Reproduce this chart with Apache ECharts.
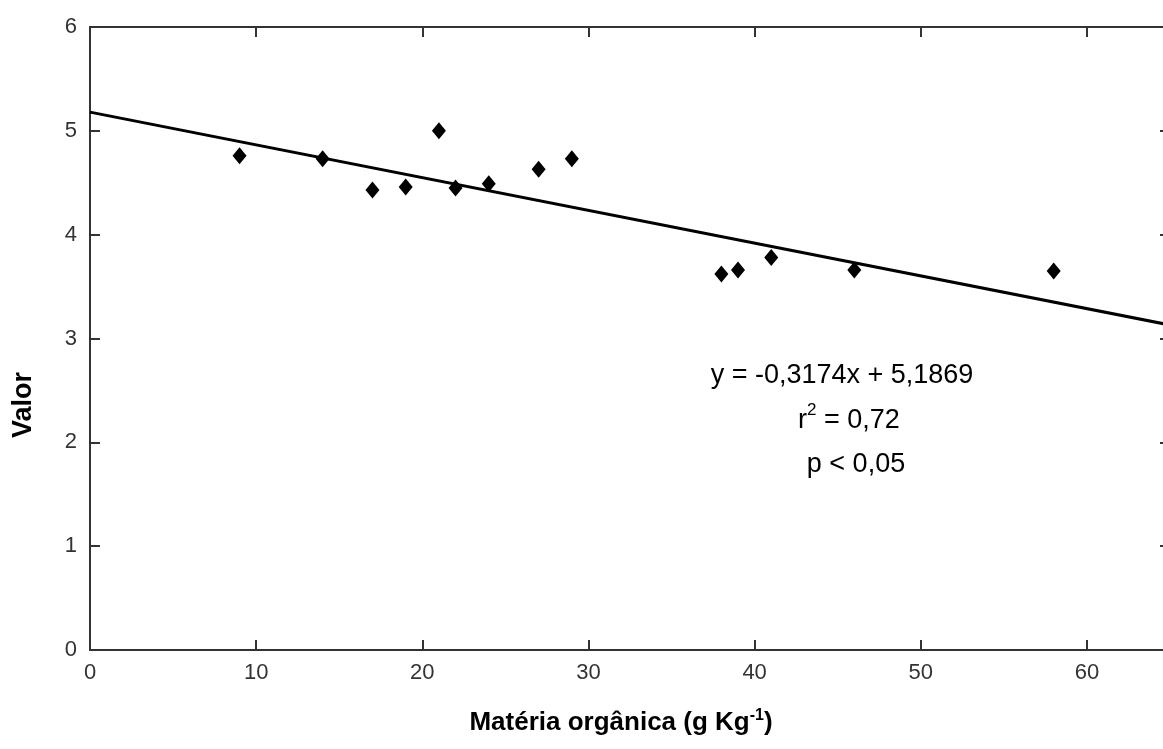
<!DOCTYPE html>
<html><head><meta charset="utf-8">
<script src="https://cdn.jsdelivr.net/npm/echarts@6/dist/echarts.min.js"></script>
<style>html,body{margin:0;padding:0;background:#fff}#c{width:1163px;height:749px}</style>
</head><body><div id="c"></div>
<script>
var xValues = [9, 14, 17, 19, 21, 22, 24, 27, 29, 38, 39, 41, 46, 58];
var yValues = [4.76, 4.73, 4.43, 4.46, 5.00, 4.45, 4.49, 4.63, 4.73, 3.62, 3.66, 3.78, 3.66, 3.65];
var fitX = [0, 65];
var fitY = [5.18, 3.13];
var xTicks = [0, 10, 20, 30, 40, 50, 60];
var yTicks = [0, 1, 2, 3, 4, 5, 6];
var eqLines = ['y = -0,3174x + 5,1869', 'r', ' = 0,72', 'p < 0,05'];
var yTitle = 'Valor';

var chart = echarts.init(document.getElementById('c'));
var font = '"Liberation Sans", Arial, sans-serif';
var axisLine = {onZero: false, lineStyle: {color: '#333', width: 2}};
var tick = {inside: true, length: 10, lineStyle: {color: '#333', width: 2}};
var scatter = xValues.map(function (x, i) { return [x, yValues[i]]; });
var fit = fitX.map(function (x, i) { return [x, fitY[i]]; });

chart.setOption({
  backgroundColor: '#fff',
  animation: false,
  grid: {left: 90, top: 27, width: 1080, height: 623, containLabel: false, outerBoundsMode: 'none'},
  xAxis: [{
    type: 'value', min: 0, max: 65, interval: 10, position: 'bottom',
    axisLine: axisLine, axisTick: tick,
    axisLabel: {color: '#333', fontFamily: font, fontSize: 22, margin: 12,
      formatter: function (v) { return xTicks.indexOf(v) >= 0 ? String(v) : ''; }},
    splitLine: {show: false},
    name: '{a|Matéria orgânica (g Kg}{s|-1}{a|)}', nameLocation: 'middle', nameGap: 58,
    nameTextStyle: {padding: [0, 18, 0, 0], rich: {
      a: {fontFamily: font, fontSize: 26, fontWeight: 'bold', color: '#000', verticalAlign: 'bottom', lineHeight: 28},
      s: {fontFamily: font, fontSize: 16, fontWeight: 'bold', color: '#000', verticalAlign: 'top', lineHeight: 28}
    }}
  }, {
    type: 'value', min: 0, max: 65, interval: 10, position: 'top',
    axisLine: axisLine, axisTick: tick,
    axisLabel: {show: false}, splitLine: {show: false}
  }],
  yAxis: [{
    type: 'value', min: 0, max: 6, interval: 1, position: 'left',
    axisLine: axisLine, axisTick: tick,
    axisLabel: {color: '#333', fontFamily: font, fontSize: 22, margin: 13,
      formatter: function (v) { return yTicks.indexOf(v) >= 0 ? String(v) : ''; }},
    splitLine: {show: false}
  }, {
    type: 'value', min: 0, max: 6, interval: 1, position: 'right',
    axisLine: axisLine, axisTick: tick,
    axisLabel: {show: false}, splitLine: {show: false}
  }],
  series: [{
    type: 'line', data: fit, showSymbol: false, symbol: 'none',
    lineStyle: {color: '#000', width: 3}, z: 2
  }, {
    type: 'scatter', data: scatter, symbol: 'diamond', symbolSize: [14, 17],
    itemStyle: {color: '#000', opacity: 1}, z: 3
  }],
  graphic: [{
    type: 'text', x: 24, y: 405, rotation: Math.PI / 2,
    style: {text: yTitle, font: 'bold 27px ' + font, fill: '#000', align: 'center', verticalAlign: 'middle'}
  }, {
    type: 'text', x: 842, y: 376,
    style: {text: eqLines[0], font: '27px ' + font, fill: '#000', align: 'center', verticalAlign: 'middle'}
  }, {
    type: 'text', x: 849, y: 418,
    style: {text: '{a|' + eqLines[1] + '}{s|2}{a|' + eqLines[2] + '}', font: '27px ' + font, fill: '#000',
      align: 'center', verticalAlign: 'middle',
      rich: {a: {font: '27px ' + font, fill: '#000', verticalAlign: 'bottom', lineHeight: 32},
             s: {font: '17px ' + font, fill: '#000', verticalAlign: 'top', lineHeight: 32}}}
  }, {
    type: 'text', x: 856, y: 465,
    style: {text: eqLines[3], font: '27px ' + font, fill: '#000', align: 'center', verticalAlign: 'middle'}
  }]
});
</script></body></html>
